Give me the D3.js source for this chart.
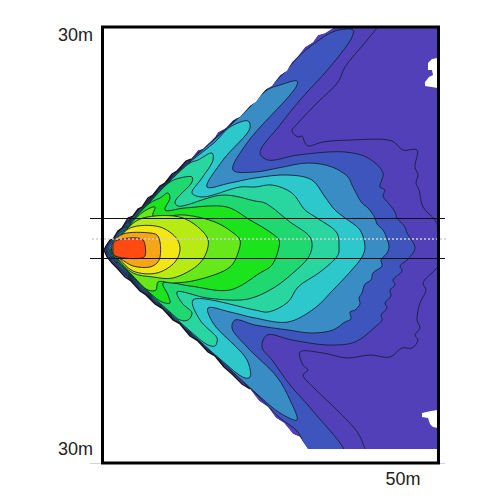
<!DOCTYPE html>
<html>
<head>
<meta charset="utf-8">
<script src="https://d3js.org/d3.v7.min.js"></script>
<style>html,body{margin:0;padding:0;background:#fff}svg{display:block}</style>
</head>
<body>
<svg id="c" width="500" height="500"></svg>
<script>
// Contours, in raster cells of the plot area (x: 0..335, y: 0..421).
const coverage = [[1,222],[3,218],[7,212],[10,211],[15,203],[19,200],[25,190],[30,188],[35,181],[39,179],[45,170],[50,167],[57,158],[62,155],[69,146],[74,143],[83,133],[88,131],[95,122],[100,121],[112,109],[115,104],[123,100],[130,92],[137,89],[147,78],[153,74],[162,62],[169,58],[177,47],[184,43],[189,34],[195,28],[202,19],[210,14],[215,7],[222,5],[230,0],[335,0],[335,421],[205,421],[197,409],[190,406],[181,395],[173,390],[165,379],[156,373],[147,361],[139,356],[129,346],[121,339],[112,328],[105,324],[95,313],[87,308],[77,296],[70,292],[60,281],[52,276],[43,267],[37,263],[28,253],[22,249],[14,240],[9,235],[4,229]];
const edgeTop = [[1,222],[3,218],[7,212],[10,211],[15,203],[19,200],[25,190],[30,188],[35,181],[39,179],[45,170],[50,167],[57,158],[62,155],[69,146],[74,143],[83,133],[88,131]];
const edgeBottom = [[147,361],[139,356],[129,346],[121,339],[112,328],[105,324],[95,313],[87,308],[77,296],[70,292],[60,281],[52,276],[43,267],[37,263],[28,253],[22,249],[14,240],[9,235],[4,229],[1,222]];
const gapTop = [[335,30],[329,31],[325,35],[325,42],[329,42],[330,47],[326,49],[322,54],[322,58],[335,60]];
const gapBottom = [[335,382],[328,383],[319,385],[319,389],[325,390],[327,396],[330,399],[335,400]];
const outerLineTop = [[274,0],[260,17],[242,39],[235,54],[214,75],[195,95],[189,103],[195,109],[199,108],[202,115],[205,118],[220,114],[247,112],[289,113],[300,122],[314,122],[312,139],[315,147],[313,155],[316,162],[320,179],[332,192],[335,199]];
const outerLineBottom = [[335,238],[332,242],[320,255],[323,262],[317,275],[314,292],[317,300],[312,307],[315,312],[309,320],[299,320],[287,329],[267,327],[244,330],[220,325],[197,324],[200,337],[205,342],[200,347],[210,359],[234,382],[255,405],[262,421]];
const level2 = [[3,222],[7,214],[27,191],[47,170],[67,150],[87,132],[112,110],[130,94],[147,78],[164,61],[182,44],[196,28],[212,15],[232,3],[250,2],[249,9],[227,39],[197,72],[177,97],[157,125],[165,132],[195,127],[242,124],[265,130],[280,145],[277,159],[282,162],[280,168],[287,177],[292,184],[294,190],[302,199],[304,205],[312,220],[304,232],[297,238],[299,243],[290,252],[292,257],[287,262],[288,268],[282,275],[284,280],[278,287],[279,292],[272,299],[252,314],[225,317],[189,312],[164,307],[159,319],[169,332],[187,357],[209,382],[242,427],[209,427],[194,403],[177,390],[154,367],[117,333],[87,306],[67,288],[47,270],[27,251],[7,230]];
const level3 = [[4,222],[8,215],[27,192],[47,171],[67,151],[87,133],[112,111],[130,95],[147,79],[164,62],[177,57],[194,53],[194,57],[187,67],[144,115],[130,142],[152,144],[175,140],[205,135],[229,139],[245,149],[249,157],[259,175],[265,180],[272,190],[274,196],[280,202],[283,208],[286,219],[284,225],[278,232],[279,238],[270,245],[268,252],[262,256],[259,265],[256,270],[257,276],[252,282],[247,284],[248,291],[242,294],[230,302],[209,305],[185,302],[152,297],[132,292],[129,300],[144,319],[174,349],[187,372],[194,392],[177,385],[154,366],[117,332],[87,305],[67,287],[47,269],[27,250],[8,229]];
const level4 = [[5,222],[9,216],[27,193],[47,172],[67,152],[87,134],[112,114],[127,99],[145,93],[147,100],[120,132],[104,159],[127,155],[152,150],[185,147],[209,152],[222,169],[232,182],[242,190],[257,202],[262,219],[259,229],[247,244],[230,262],[212,280],[185,294],[152,290],[127,284],[105,280],[110,295],[144,332],[147,349],[142,350],[117,331],[87,304],[67,286],[47,268],[27,249],[9,229]];
const level5 = [[6,222],[10,217],[27,194],[47,173],[67,153],[87,135],[95,132],[109,125],[110,132],[99,150],[89,165],[99,169],[137,159],[152,159],[169,157],[189,165],[202,182],[214,190],[234,205],[236,219],[235,227],[217,244],[195,259],[185,274],[165,284],[152,282],[90,272],[97,292],[114,310],[114,314],[112,318],[105,317],[87,303],[67,285],[47,267],[27,248],[10,229]];
const level6 = [[7,222],[11,218],[27,195],[47,174],[67,154],[77,150],[89,149],[89,154],[72,174],[75,178],[120,167],[152,173],[162,175],[182,190],[187,194],[207,209],[209,219],[205,230],[190,245],[172,259],[152,269],[137,272],[104,270],[74,264],[79,275],[89,285],[85,292],[77,292],[67,284],[47,266],[27,247],[11,229]];
const level7 = [[7,222],[12,219],[27,196],[47,175],[57,170],[65,165],[67,170],[62,182],[82,180],[124,179],[147,192],[167,204],[176,212],[176,219],[169,237],[157,245],[127,262],[87,258],[60,255],[65,267],[67,275],[59,274],[47,265],[27,246],[12,230]];
const level8 = [[8,222],[13,219],[27,197],[40,184],[52,179],[50,188],[82,187],[112,194],[129,204],[137,212],[135,225],[127,239],[94,252],[70,255],[55,254],[53,262],[45,262],[30,248],[15,232]];
const level9 = [[9,222],[14,216],[27,198],[40,190],[80,190],[104,209],[105,219],[97,235],[70,250],[50,249],[30,245],[15,231]];
const level10 = [[9,222],[15,212],[27,200],[57,199],[74,211],[77,222],[72,234],[54,245],[30,243],[15,229]];
const level11 = [[9,222],[10,214],[20,206],[47,205],[54,207],[57,214],[57,229],[54,235],[47,239],[30,238],[18,231],[10,226]];
const level12 = [[10,222],[11,214],[19,211],[35,210],[40,212],[42,217],[42,228],[39,230],[21,230],[11,227]];

const baseColor = "#5140b8";
const levels = [level2,level3,level4,level5,level6,level7,level8,level9,level10,level11,level12];
const levelColors = ["#3e55be","#3a8cc4","#2cc8cc","#2ad6a0","#20d870","#1be31c","#66e81a","#b8ea14","#f2e614","#f5a516","#ff4a12"];
const yTickLabels = ["30m","30m"];
const yTickCells = [0,421];
const xTickLabels = ["50m"];
const xTickCells = [300];
const beamLines = [190,230];
const beamAxis = [211];

const svg = d3.select("#c");
const x = d3.scaleLinear().domain([0,335]).range([103,438]);
const y = d3.scaleLinear().domain([0,421]).range([28,449]);
const line = d3.line().x(d=>x(d[0])).y(d=>y(d[1]));
const smoothClosed = d3.line().x(d=>x(d[0])).y(d=>y(d[1])).curve(d3.curveCatmullRomClosed.alpha(0.5));
const smoothOpen = d3.line().x(d=>x(d[0])).y(d=>y(d[1])).curve(d3.curveCatmullRom.alpha(0.5));
const closed = p => line(p)+"Z";

svg.append("line").attr("x1",90).attr("x2",445).attr("y1",463.5).attr("y2",463.5)
  .attr("stroke","#c9d6ea").attr("stroke-width",1);

svg.append("clipPath").attr("id","cone").append("path").attr("d",closed(coverage));
const g = svg.append("g").attr("clip-path","url(#cone)");
g.append("path").attr("d",closed(coverage)).attr("fill",baseColor);
g.selectAll("path.level").data(levels).join("path").attr("class","level")
  .attr("d",smoothClosed)
  .attr("fill",(d,i)=>levelColors[i])
  .attr("stroke","#14233a").attr("stroke-width",0.9).attr("stroke-linejoin","round");
g.selectAll("path.outer").data([outerLineTop,outerLineBottom]).join("path").attr("class","outer")
  .attr("d",smoothOpen).attr("fill","none").attr("stroke","#14233a").attr("stroke-width",0.9);
g.selectAll("path.gap").data([gapTop,gapBottom]).join("path").attr("class","gap")
  .attr("d",closed).attr("fill","#fff");
svg.selectAll("path.edge").data([edgeTop,edgeBottom]).join("path").attr("class","edge")
  .attr("d",line).attr("fill","none").attr("stroke","#111").attr("stroke-width",1.3);

svg.selectAll("line.beam").data(beamLines).join("line").attr("class","beam")
  .attr("x1",90).attr("x2",445).attr("y1",d=>y(d)+0.5).attr("y2",d=>y(d)+0.5)
  .attr("stroke","#111").attr("stroke-width",1.2);
svg.selectAll("line.axis").data(beamAxis).join("line").attr("class","axis")
  .attr("x1",92).attr("x2",446).attr("y1",d=>y(d)).attr("y2",d=>y(d))
  .attr("stroke","#cfcfcf").attr("stroke-width",1.6).attr("stroke-dasharray","2 2");

svg.append("rect").attr("x",102.5).attr("y",27).attr("width",336).attr("height",436)
  .attr("fill","none").attr("stroke","#000").attr("stroke-width",3);

svg.selectAll("text.yl").data(yTickLabels).join("text").attr("class","yl")
  .attr("x",93).attr("y",(d,i)=>y(yTickCells[i])+(i===0?13:6))
  .attr("text-anchor","end").attr("font-family","Liberation Sans, Arial, sans-serif")
  .attr("font-size",18).attr("fill","#222").text(d=>d);
svg.selectAll("text.xl").data(xTickLabels).join("text").attr("class","xl")
  .attr("x",(d,i)=>x(xTickCells[i])).attr("y",485)
  .attr("text-anchor","middle").attr("font-family","Liberation Sans, Arial, sans-serif")
  .attr("font-size",18).attr("fill","#222").text(d=>d);
</script>
</body>
</html>
